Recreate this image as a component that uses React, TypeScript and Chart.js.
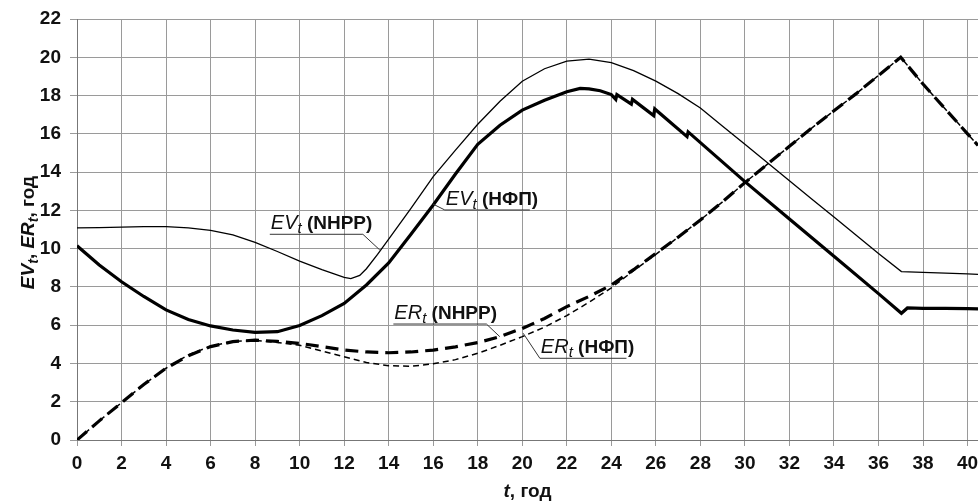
import React, { useEffect, useRef } from "react";
import { Chart, registerables } from "chart.js";

Chart.register(...registerables);

// ---- data (t in years) ----
const tEvNhpp = [0, 1, 2, 3, 4, 5, 6, 7, 8, 9, 10, 11, 12, 12.3, 12.7, 13, 13.5, 14, 15, 16, 17, 18, 19, 20, 21, 22, 23, 24, 25, 26, 27, 28, 29, 30, 31, 32, 33, 34, 35, 36, 37.03, 38, 39, 40, 40.47];
const evNhpp = [11.08, 11.1, 11.12, 11.15, 11.15, 11.08, 10.95, 10.72, 10.33, 9.85, 9.35, 8.9, 8.5, 8.43, 8.6, 8.95, 9.7, 10.5, 12.1, 13.76, 15.15, 16.5, 17.7, 18.75, 19.4, 19.8, 19.9, 19.72, 19.3, 18.75, 18.1, 17.35, 16.4, 15.45, 14.5, 13.55, 12.6, 11.65, 10.7, 9.75, 8.8, 8.76, 8.72, 8.68, 8.66];

const tEvNfp = [0, 1, 2, 3, 4, 5, 6, 7, 8, 9, 10, 11, 12, 13, 14, 15, 16, 17, 18, 19, 20, 21, 22, 22.6, 23, 23.5, 24, 24.2, 24.25, 24.9, 24.95, 25.9, 25.95, 27.4, 27.45, 30, 32, 34, 36, 37.03, 37.3, 38, 39, 40, 40.47];
const evNfp = [10.15, 9.15, 8.27, 7.5, 6.8, 6.3, 5.96, 5.75, 5.62, 5.66, 5.98, 6.5, 7.14, 8.1, 9.25, 10.75, 12.28, 13.9, 15.45, 16.45, 17.24, 17.75, 18.2, 18.37, 18.35, 18.25, 18.05, 17.8, 18.05, 17.55, 17.8, 16.95, 17.3, 15.85, 16.1, 13.5, 11.55, 9.6, 7.65, 6.62, 6.9, 6.88, 6.88, 6.86, 6.85];

const tEr = [0, 1, 2, 3, 4, 5, 6, 7, 8, 9, 10, 11, 12, 13, 14, 15, 16, 17, 18, 19, 20, 21, 22, 23, 24, 25, 26, 27, 28, 29, 30, 31, 32, 33, 34, 35, 36, 37, 38, 39, 40, 40.47];
const erNhpp = [0, 1.0, 1.95, 2.9, 3.75, 4.4, 4.88, 5.14, 5.22, 5.15, 5.05, 4.88, 4.7, 4.6, 4.56, 4.6, 4.7, 4.87, 5.09, 5.4, 5.83, 6.35, 6.97, 7.5, 8.1, 8.9, 9.75, 10.6, 11.5, 12.45, 13.45, 14.4, 15.35, 16.3, 17.2, 18.1, 19.05, 20.0, 18.6, 17.3, 16.0, 15.4];
const erNfp = [0, 1.0, 1.95, 2.9, 3.75, 4.45, 4.9, 5.15, 5.2, 5.1, 4.95, 4.65, 4.35, 4.05, 3.88, 3.85, 3.98, 4.2, 4.53, 4.95, 5.4, 5.9, 6.5, 7.2, 7.95, 8.85, 9.7, 10.6, 11.5, 12.45, 13.45, 14.4, 15.35, 16.3, 17.2, 18.1, 19.05, 20.0, 18.6, 17.3, 16.0, 15.4];

const xMin = 0;
const xMax = 40.47;
const xStep = 2;
const yMin = 0;
const yMax = 22;
const yStep = 2;

// callout labels: underline from t0 to t1 at level v, leader from chosen end to (at, av)
const callouts = [
  { main: "EV", rest: " (NHPP)", t0: 8.66, t1: 12.84, v: 10.75, side: "right", at: 13.6, av: 9.93 },
  { main: "EV", rest: " (НФП)", t0: 16.52, t1: 20.34, v: 12.02, side: "left", at: 15.99, av: 12.33 },
  { main: "ER", rest: " (NHPP)", t0: 14.21, t1: 18.39, v: 6.06, side: "right", at: 18.99, av: 5.4 },
  { main: "ER", rest: " (НФП)", t0: 20.79, t1: 24.68, v: 4.27, side: "left", at: 20.04, av: 5.58 },
];

const FAM = "'Liberation Sans Narrow', 'Arial Narrow', 'Liberation Sans', Arial, sans-serif";

type Part = { text: string; font: string; dy?: number };

function drawParts(ctx: CanvasRenderingContext2D, x: number, y: number, parts: Part[], align: "left" | "center") {
  let total = 0;
  for (const p of parts) {
    ctx.font = p.font;
    total += ctx.measureText(p.text).width;
  }
  let cx = align === "center" ? x - total / 2 : x;
  ctx.textAlign = "left";
  ctx.textBaseline = "alphabetic";
  for (const p of parts) {
    ctx.font = p.font;
    ctx.fillText(p.text, cx, y + (p.dy || 0));
    cx += ctx.measureText(p.text).width;
  }
}

const overlayPlugin = {
  id: "overlay",
  afterDraw(chart: any) {
    const ctx: CanvasRenderingContext2D = chart.ctx;
    const xs = chart.scales.x;
    const ys = chart.scales.y;
    ctx.save();
    ctx.fillStyle = "#111";
    for (const c of callouts) {
      const x0 = xs.getPixelForValue(c.t0);
      const x1 = xs.getPixelForValue(c.t1);
      const uy = ys.getPixelForValue(c.v);
      const lx = c.side === "right" ? x1 : x0;
      ctx.strokeStyle = "#333";
      ctx.lineWidth = 1;
      ctx.beginPath();
      ctx.moveTo(x0, uy);
      ctx.lineTo(x1, uy);
      ctx.stroke();
      ctx.beginPath();
      ctx.moveTo(lx, uy);
      ctx.lineTo(xs.getPixelForValue(c.at), ys.getPixelForValue(c.av));
      ctx.stroke();
      drawParts(ctx, x0 + 1, uy - 5, [
        { text: c.main, font: `italic 20px ${FAM}` },
        { text: "t", font: `italic 15px ${FAM}`, dy: 4 },
        { text: c.rest, font: `bold 19px ${FAM}` },
      ], "left");
    }
    // y axis title
    const ca = chart.chartArea;
    ctx.save();
    ctx.translate(34, (ca.top + ca.bottom) / 2 + 3);
    ctx.rotate(-Math.PI / 2);
    drawParts(ctx, 0, 0, [
      { text: "EV", font: `italic bold 19px ${FAM}` },
      { text: "t", font: `italic bold 14px ${FAM}`, dy: 4 },
      { text: ", ", font: `bold 19px ${FAM}` },
      { text: "ER", font: `italic bold 19px ${FAM}` },
      { text: "t", font: `italic bold 14px ${FAM}`, dy: 4 },
      { text: ", год", font: `bold 19px ${FAM}` },
    ], "center");
    ctx.restore();
    // x axis title
    drawParts(ctx, (ca.left + ca.right) / 2, 497, [
      { text: "t", font: `italic bold 19px ${FAM}` },
      { text: ", год", font: `bold 19px ${FAM}` },
    ], "center");
    ctx.restore();
  },
};

function pts(ts: number[], vs: number[]) {
  return ts.map((t, i) => ({ x: t, y: vs[i] }));
}

export default function App() {
  const ref = useRef<HTMLCanvasElement | null>(null);
  useEffect(() => {
    document.body.style.margin = "0";
    const canvas = ref.current;
    if (!canvas) return;
    const tickFont = { family: FAM, size: 19, weight: "bold" as const };
    const chart = new Chart(canvas, {
      type: "line",
      data: {
        datasets: [
          { label: "ERt (NHPP)", data: pts(tEr, erNhpp), borderColor: "#000", borderWidth: 3.2, borderDash: [13, 7], pointRadius: 0, tension: 0, fill: false },
          { label: "ERt (НФП)", data: pts(tEr, erNfp), borderColor: "#000", borderWidth: 1.5, borderDash: [6, 4], pointRadius: 0, tension: 0, fill: false },
          { label: "EVt (NHPP)", data: pts(tEvNhpp, evNhpp), borderColor: "#000", borderWidth: 1.3, pointRadius: 0, tension: 0, fill: false },
          { label: "EVt (НФП)", data: pts(tEvNfp, evNfp), borderColor: "#000", borderWidth: 3.2, pointRadius: 0, tension: 0, fill: false },
        ],
      },
      options: {
        animation: false,
        responsive: false,
        devicePixelRatio: 1,
        layout: { padding: { top: 19, right: 0, left: 0, bottom: 0 } },
        plugins: { legend: { display: false }, tooltip: { enabled: false } },
        scales: {
          x: {
            type: "linear",
            min: xMin,
            max: xMax,
            ticks: { stepSize: xStep, includeBounds: false, font: tickFont, color: "#111", padding: 6, maxRotation: 0, autoSkip: false },
            grid: { color: "#9a9a9a", lineWidth: 1, tickLength: 6, drawTicks: true },
            border: { color: "#777", width: 1 },
            afterFit: (s: any) => { s.height = 61; s.paddingLeft = 0; s.paddingRight = 0; },
          },
          y: {
            type: "linear",
            min: yMin,
            max: yMax,
            ticks: { stepSize: yStep, font: tickFont, color: "#111", padding: 9 },
            grid: { color: "#9a9a9a", lineWidth: 1, tickLength: 7, drawTicks: true },
            border: { color: "#777", width: 1 },
            afterFit: (s: any) => { s.width = 77; s.paddingTop = 0; s.paddingBottom = 0; },
          },
        },
      },
      plugins: [overlayPlugin],
    });
    return () => chart.destroy();
  }, []);
  return (
    <div style={{ width: 978, height: 501 }}>
      <canvas ref={ref} width={978} height={501} style={{ display: "block" }} />
    </div>
  );
}
